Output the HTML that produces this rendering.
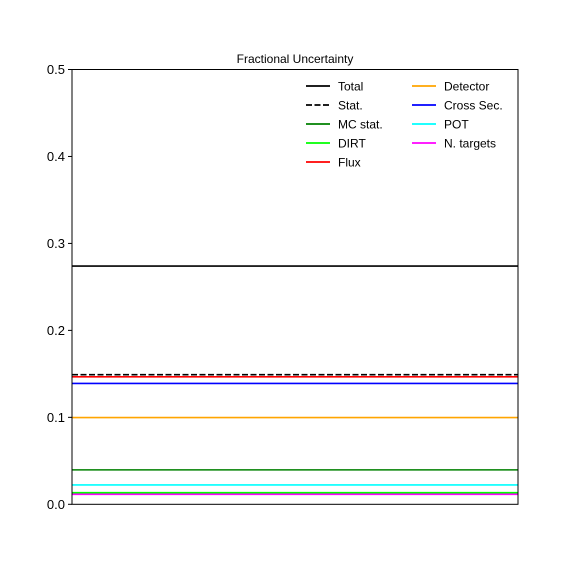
<!DOCTYPE html>
<html><head><meta charset="utf-8"><style>
body{margin:0;background:#fff}
svg text{font-family:"Liberation Sans","DejaVu Sans",sans-serif}
</style></head><body>
<svg id="chart" width="576" height="576" xmlns="http://www.w3.org/2000/svg">
<rect width="576" height="576" fill="#fff"/>
<text x="295" y="63" font-size="12" text-anchor="middle">Fractional Uncertainty</text>
<g id="lines"></g>
<g id="yaxis"></g>
<rect x="72" y="69.5" width="446" height="434.8" fill="none" stroke="#000" stroke-width="1"/>
<g id="legend"></g>
</svg>
<script>
const seriesNames = ["Total","Stat.","MC stat.","DIRT","Flux","Detector","Cross Sec.","POT","N. targets"];
const seriesValues = [0.274,0.149,0.0396,0.0133,0.1466,0.0997,0.139,0.0223,0.0115];
const seriesColors = ["#000","#000","green","lime","red","orange","blue","cyan","magenta"];
const seriesDash = [false,true,false,false,false,false,false,false,false];
const yTicks = [0.0,0.1,0.2,0.3,0.4,0.5];
const yTickLabels = ["0.0","0.1","0.2","0.3","0.4","0.5"];
const NS="http://www.w3.org/2000/svg";
const x0=72,x1=518,yTop=69.5,yBot=504.3,yMax=0.5;
function y(v){return yBot-(v/yMax)*(yBot-yTop);}
function mk(t,a){const e=document.createElementNS(NS,t);for(const k in a)e.setAttribute(k,a[k]);return e;}
const yg=document.getElementById('yaxis');
yTicks.forEach((t,i)=>{
  const l=mk('line',{x1:x0-4,x2:x0,y1:y(t),y2:y(t),stroke:'#000'});
  
  
  yg.appendChild(l);
  const tx=mk('text',{x:x0-7,y:y(t)+4.5,'font-size':'13','text-anchor':'end'});
  tx.textContent=yTickLabels[i];
  
  
  yg.appendChild(tx);
});
const lg=document.getElementById('lines');
const order=[0,1,4,6,5,2,7,3,8];
order.forEach(i=>{
  const l=mk('line',{x1:x0,x2:x1,y1:y(seriesValues[i]),y2:y(seriesValues[i]),stroke:seriesColors[i],'stroke-width':'1.6'});
  if(seriesDash[i])l.setAttribute('stroke-dasharray','6,2.5');
  
  
  lg.appendChild(l);
});
const leg=document.getElementById('legend');
seriesNames.forEach((n,i)=>{
  const col=i<5?0:1,row=i<5?i:i-5;
  const lx=col?412:306,ly=86+row*19;
  const l=mk('line',{x1:lx,x2:lx+24,y1:ly,y2:ly,stroke:seriesColors[i],'stroke-width':'1.8'});
  if(seriesDash[i])l.setAttribute('stroke-dasharray','6,2.5');
  
  
  leg.appendChild(l);
  const t=mk('text',{x:lx+32,y:ly+4.5,'font-size':'12'});
  t.textContent=n;
  
  
  leg.appendChild(t);
});
</script>
</body></html>
